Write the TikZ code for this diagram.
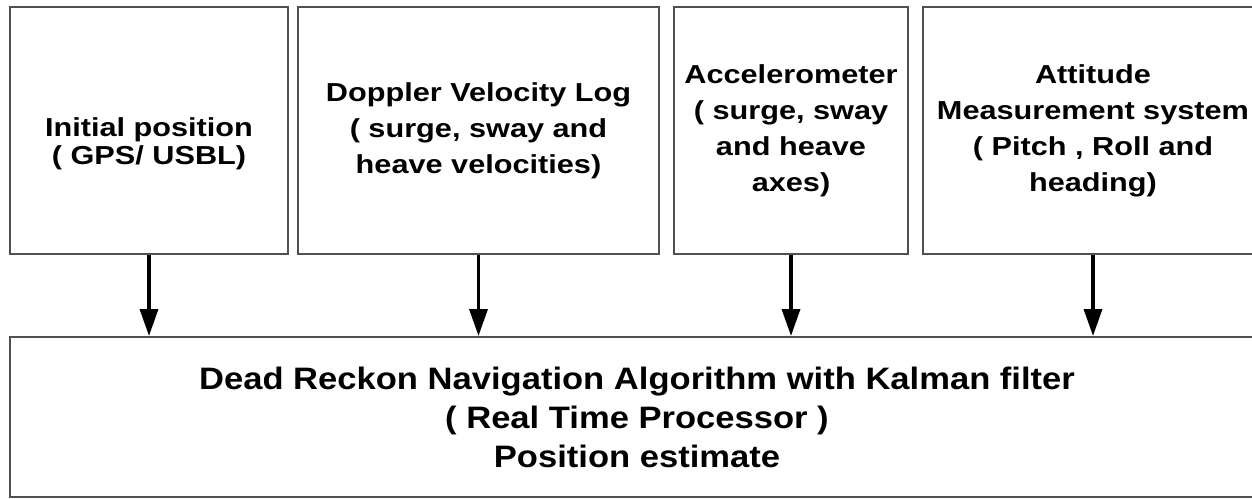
\documentclass[tikz,border=0pt]{standalone}
\usepackage{fontspec}
\setmainfont{Liberation Sans}
\newfontfamily\topfont[FakeStretch=1.18]{Liberation Sans}
\newfontfamily\algfont[FakeStretch=1.115]{Liberation Sans}
\usetikzlibrary{arrows.meta}
\definecolor{boxgray}{HTML}{505050}
\tikzset{
  sensor/.style={draw=boxgray, line width=2pt, anchor=north west, align=center,
    inner sep=0pt, minimum height=247pt,
    font=\topfont\bfseries\fontsize{26}{36}\selectfont},
  algbox/.style={draw=boxgray, line width=2pt, anchor=north west, align=center,
    inner sep=0pt, minimum height=160pt,
    font=\algfont\bfseries\fontsize{31}{39}\selectfont},
  flow/.style={-{Triangle[length=27pt,width=18pt]}, line width=3.5pt}
}
\begin{document}
\begin{tikzpicture}[x=1pt, y=-1pt]
      \useasboundingbox (0,0) rectangle (1252,498);

      % Sensor boxes
      \node[sensor, minimum width=278pt, text height=74pt,
        font=\topfont\bfseries\fontsize{26}{28}\selectfont] (init) at (9,6) {Initial position\\( GPS/ USBL)};
      \node[sensor, minimum width=361pt] (dvl) at (297,6) {Doppler Velocity Log\\( surge, sway and\\heave velocities)};
      \node[sensor, minimum width=234pt] (accel) at (673,6) {Accelerometer\\( surge, sway\\and heave\\axes)};
      \node[sensor, minimum width=340pt] (attitude) at (922,6) {Attitude\\Measurement system\\( Pitch , Roll and\\heading)};

      % Algorithm box
      \node[algbox, minimum width=1254pt] (deadreck) at (9,336) {Dead Reckon Navigation Algorithm with Kalman filter\\( Real Time Processor )\\Position estimate};

      % Arrows
      \draw[flow] (init.south) -- (init.south |- deadreck.north);
      \draw[flow] (dvl.south) -- (dvl.south |- deadreck.north);
      \draw[flow] (accel.south) -- (accel.south |- deadreck.north);
      \draw[flow] (attitude.south) -- (attitude.south |- deadreck.north);
    \end{tikzpicture}
\end{document}
